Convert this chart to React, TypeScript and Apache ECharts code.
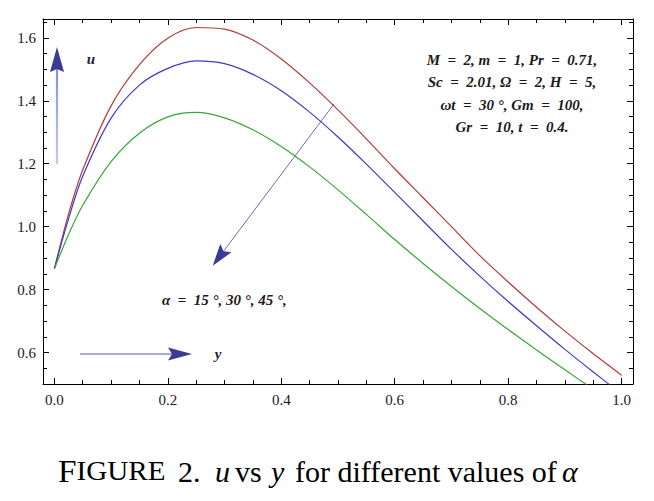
import React, { useEffect, useRef } from "react";
import * as echarts from "echarts";

// positions across the channel (y)
const yPos = [0, 0.025, 0.05, 0.1, 0.15, 0.2, 0.25, 0.3, 0.35, 0.4, 0.45, 0.5, 0.55, 0.6, 0.65, 0.7, 0.75, 0.8, 0.85, 0.9, 0.95, 1.0];
// velocity u for alpha = 15°, 30°, 45°
const uAlpha15 = [0.866, 1.04, 1.18, 1.384, 1.515, 1.599, 1.633, 1.628, 1.593, 1.533, 1.457, 1.371, 1.279, 1.184, 1.092, 1.0, 0.908, 0.824, 0.744, 0.668, 0.596, 0.528];
const uAlpha30 = [0.866, 1.025, 1.16, 1.345, 1.45, 1.503, 1.527, 1.518, 1.484, 1.432, 1.364, 1.285, 1.199, 1.109, 1.018, 0.928, 0.843, 0.762, 0.685, 0.61, 0.538, 0.468];
const uAlpha45 = [0.866, 0.975, 1.068, 1.207, 1.297, 1.349, 1.363, 1.346, 1.308, 1.255, 1.19, 1.117, 1.039, 0.959, 0.883, 0.81, 0.74, 0.673, 0.608, 0.545, 0.483, 0.422];

// ticks
const xMajor = [0, 0.2, 0.4, 0.6, 0.8, 1.0];
const xMinor = [0.05, 0.1, 0.15, 0.25, 0.3, 0.35, 0.45, 0.5, 0.55, 0.65, 0.7, 0.75, 0.85, 0.9, 0.95];
const yMajor = [0.6, 0.8, 1.0, 1.2, 1.4, 1.6];
const yMinor = [0.55, 0.65, 0.7, 0.75, 0.85, 0.9, 0.95, 1.05, 1.1, 1.15, 1.25, 1.3, 1.35, 1.45, 1.5, 1.55, 1.65];

const paramLines = [
  "M  =  2, m  =  1, Pr  =  0.71,",
  "Sc  =  2.01, \u03A9  =  2, H  =  5,",
  "\u03C9t  =  30 \u00B0, Gm  =  100,",
  "Gr  =  10, t  =  0.4.",
];
const alphaText = "\u03B1  =  15 \u00B0, 30 \u00B0, 45 \u00B0,";

const SERIF = "Liberation Serif";

function axisCommon(pos: string, showLine: boolean, ticks: number[], len: number, labels: boolean, isX: boolean) {
  const range = isX ? { min: -0.02, max: 1.02 } : { min: 0.5, max: 1.66 };
  return {
    type: "value",
    position: pos,
    ...range,
    axisLine: { show: showLine, onZero: false, lineStyle: { color: "#000", width: 1 } },
    axisTick: { show: true, inside: true, length: len, customValues: ticks, lineStyle: { color: "#000", width: 1 } },
    axisLabel: labels
      ? {
          show: true,
          customValues: ticks,
          formatter: (v: number) => v.toFixed(1),
          margin: isX ? 8 : 7,
          fontFamily: SERIF,
          fontSize: 15,
          color: "#1a1a1a",
        }
      : { show: false },
    splitLine: { show: false },
  };
}

export default function App() {
  const ref = useRef<HTMLDivElement>(null);
  useEffect(() => {
    if (!ref.current) return;
    const chart = echarts.init(ref.current, undefined, { renderer: "svg" });
    const mk = (vals: number[]) => yPos.map((x, i) => [x, vals[i]]);
    const lineSeries = (name: string, vals: number[], color: string) => ({
      name,
      type: "line",
      xAxisIndex: 0,
      yAxisIndex: 0,
      data: mk(vals),
      smooth: 0.3,
      showSymbol: false,
      clip: true,
      lineStyle: { color, width: 1.2 },
    });

    // arrow geometry (annotation)
    const tip = [212.7, 265.7];
    const start = [334, 104];
    const dx = tip[0] - start[0];
    const dy = tip[1] - start[1];
    const L = Math.hypot(dx, dy);
    const ux = dx / L, uy = dy / L;
    const px = -uy, py = ux;
    const bc = [tip[0] - 22 * ux, tip[1] - 22 * uy];
    const notch = [tip[0] - 18 * ux, tip[1] - 18 * uy];
    const headColor = "#3b3b96";

    const capText = (x: number, text: string, size: number, italic: boolean) => ({
      type: "text",
      x,
      y: 471,
      style: {
        text,
        fontFamily: SERIF,
        fontSize: size,
        fontStyle: italic ? "italic" : "normal",
        fill: "#000",
        align: "left",
        verticalAlign: "middle",
      },
    });

    chart.setOption({
      animation: false,
      grid: { left: 43, top: 19, right: 21, bottom: 117, containLabel: false },
      xAxis: [
        axisCommon("bottom", true, xMajor, 6, true, true),
        axisCommon("bottom", false, xMinor, 4, false, true),
        axisCommon("top", true, xMajor, 6, false, true),
        axisCommon("top", false, xMinor, 4, false, true),
      ],
      yAxis: [
        axisCommon("left", true, yMajor, 6, true, false),
        axisCommon("left", false, yMinor, 4, false, false),
        axisCommon("right", true, yMajor, 6, false, false),
        axisCommon("right", false, yMinor, 4, false, false),
      ],
      series: [
        lineSeries("\u03B1 = 15\u00B0", uAlpha15, "#b53a3a"),
        lineSeries("\u03B1 = 30\u00B0", uAlpha30, "#3b3bc4"),
        lineSeries("\u03B1 = 45\u00B0", uAlpha45, "#35a835"),
      ],
      graphic: [
        // u arrow
        {
          type: "rect",
          shape: { x: 55.9, y: 69, width: 2.2, height: 95 },
          style: {
            fill: new echarts.graphic.LinearGradient(0, 1, 0, 0, [
              { offset: 0, color: "#c8cae8" },
              { offset: 1, color: "#8e92cc" },
            ]),
          },
        },
        {
          type: "polygon",
          shape: { points: [[57, 47], [64, 72], [57, 69], [50, 72]] },
          style: { fill: headColor },
        },
        {
          type: "text",
          x: 91,
          y: 59,
          style: { text: "u", fontFamily: SERIF, fontStyle: "italic", fontWeight: "bold", fontSize: 15, fill: "#1c1c3c", align: "center", verticalAlign: "middle" },
        },
        // y arrow
        {
          type: "rect",
          shape: { x: 80, y: 352.9, width: 92, height: 2.2 },
          style: { fill: "#a9acd8" },
        },
        {
          type: "polygon",
          shape: { points: [[192, 354], [168, 347.5], [172, 354], [168, 360.5]] },
          style: { fill: headColor },
        },
        {
          type: "text",
          x: 218,
          y: 354,
          style: { text: "y", fontFamily: SERIF, fontStyle: "italic", fontWeight: "bold", fontSize: 15, fill: "#1c1c3c", align: "center", verticalAlign: "middle" },
        },
        // diagonal arrow
        {
          type: "line",
          shape: { x1: start[0], y1: start[1], x2: notch[0], y2: notch[1] },
          style: { lineWidth: 1, stroke: "#6d6db8" },
        },
        {
          type: "polygon",
          shape: {
            points: [tip, [bc[0] + 7 * px, bc[1] + 7 * py], notch, [bc[0] - 7 * px, bc[1] - 7 * py]],
          },
          style: { fill: headColor },
        },
        {
          type: "text",
          x: 162,
          y: 300,
          style: { text: alphaText, fontFamily: SERIF, fontStyle: "italic", fontWeight: "bold", fontSize: 15, fill: "#1a1a1a", align: "left", verticalAlign: "middle" },
        },
        ...paramLines.map((t, i) => ({
          type: "text",
          x: 512,
          y: [60, 82, 105, 127][i],
          style: { text: t, fontFamily: SERIF, fontStyle: "italic", fontWeight: "bold", fontSize: 15, fill: "#1a1a1a", align: "center", verticalAlign: "middle" },
        })),
        // caption
        {
          type: "text",
          x: 58,
          y: 471,
          scaleX: 1.04,
          style: {
            text: "{a|F}{b|IGURE}",
            align: "left",
            verticalAlign: "middle",
            rich: {
              a: { fontFamily: SERIF, fontSize: 32, fill: "#000" },
              b: { fontFamily: SERIF, fontSize: 28, fill: "#000" },
            },
          },
        },
        capText(178, "2.", 30, false),
        capText(215, "u", 30, true),
        capText(235, "vs", 30, false),
        capText(271, "y", 30, true),
        capText(295, "for different values of", 30, false),
        capText(562, "\u03B1", 30, true),
      ],
    });
    return () => chart.dispose();
  }, []);
  return <div ref={ref} style={{ position: "absolute", left: 0, top: 0, width: 654, height: 501 }} />;
}
